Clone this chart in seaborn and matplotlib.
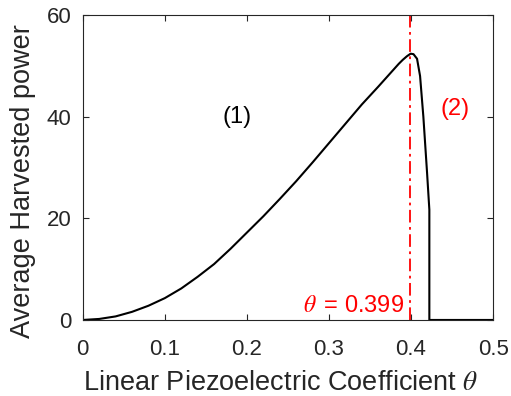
import matplotlib
matplotlib.use("Agg")
import matplotlib.pyplot as plt
import seaborn as sns
import pandas as pd

# Average harvested power versus linear piezoelectric coefficient
theta = [0.0, 0.02, 0.04, 0.06, 0.08, 0.10, 0.12, 0.14, 0.16, 0.18,
         0.20, 0.22, 0.24, 0.26, 0.28, 0.30, 0.32, 0.34, 0.36, 0.37,
         0.38, 0.385, 0.39, 0.395, 0.3995, 0.403, 0.4073, 0.411, 0.415,
         0.4195, 0.4223, 0.4223, 0.5]
power = [0.0, 0.2, 0.7, 1.6, 2.8, 4.3, 6.2, 8.5, 11.0, 14.0,
         17.2, 20.4, 23.8, 27.3, 31.0, 34.8, 38.6, 42.4, 45.9, 47.7,
         49.5, 50.4, 51.2, 51.9, 52.4, 52.3, 51.4, 48.0, 40.0,
         29.0, 21.7, 0.0, 0.0]
theta_opt = 0.399

xticks = [0, 0.1, 0.2, 0.3, 0.4, 0.5]
yticks = [0, 20, 40, 60]

sns.set_theme(style="white")
plt.rcParams["font.family"] = ["Liberation Sans", "DejaVu Sans"]
plt.rcParams["mathtext.fontset"] = "stix"

axc = (0.15, 0.15, 0.15)
fig = plt.figure(figsize=(5.11, 3.96), dpi=100)
ax = fig.add_axes([0.162, 0.192, 0.803, 0.770])

df = pd.DataFrame({"theta": theta, "power": power})
sns.lineplot(data=df, x="theta", y="power", ax=ax, color="black",
             linewidth=1.5, sort=False, estimator=None)

ax.axvline(theta_opt, color="red", linestyle=(0, (7, 2.5, 1.5, 2.5)),
           linewidth=1.3)

ax.text(0.188, 40, "(1)", fontsize=17, color="black", ha="center", va="center")
ax.text(0.454, 41.6, "(2)", fontsize=17, color="red", ha="center", va="center")
ax.text(0.3918, 1.5, r"$\theta\,$ = 0.399", fontsize=17, color="red",
        ha="right", va="baseline")

ax.set_xlim(0, 0.5)
ax.set_ylim(0, 60)
ax.set_xticks(xticks)
ax.set_yticks(yticks)
ax.set_xticklabels([f"{t:g}" for t in xticks])
ax.set_yticklabels([str(t) for t in yticks])

ax.set_xlabel(r"Linear Piezoelectric Coefficient $\theta$", fontsize=19.5,
              color=axc, labelpad=7)
ax.set_ylabel("Average Harvested power", fontsize=19.5, color=axc, labelpad=8)
ax.xaxis.label.set_x(0.482)
ax.yaxis.label.set_y(0.455)

ax.tick_params(axis="both", direction="in", length=4, width=0.8, colors=axc,
               labelsize=16, top=True, right=True, bottom=True, left=True)
ax.tick_params(axis="x", pad=14)
ax.tick_params(axis="y", pad=8)
for s in ax.spines.values():
    s.set_visible(True)
    s.set_color(axc)
    s.set_linewidth(0.8)

fig.savefig("out.png", dpi=100)
